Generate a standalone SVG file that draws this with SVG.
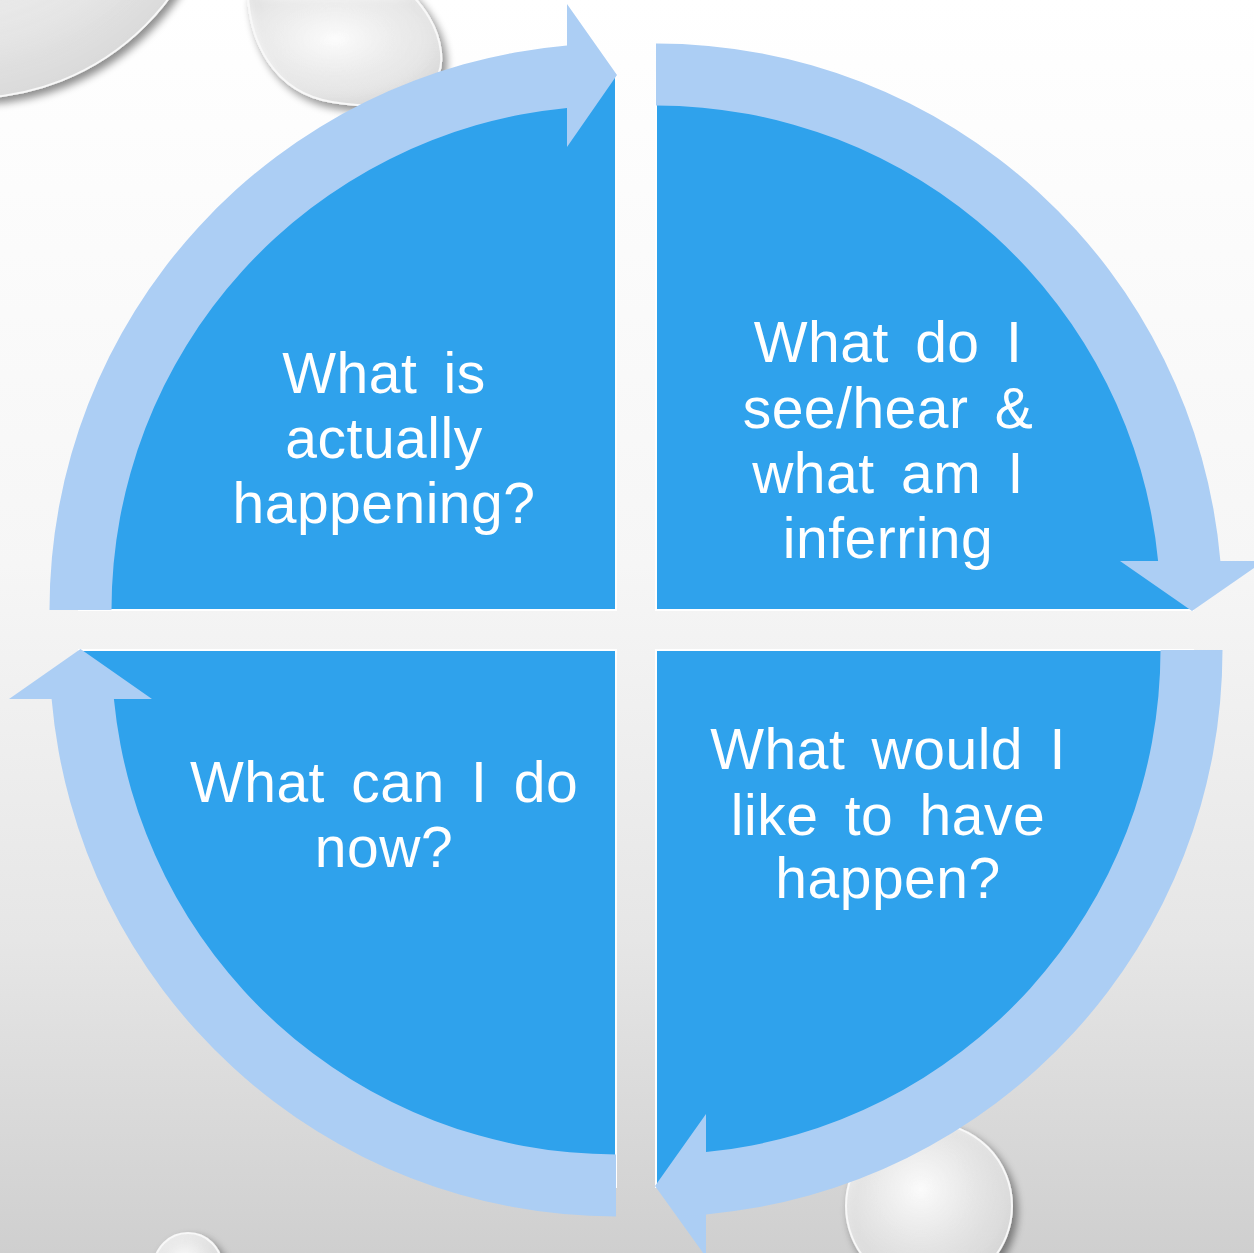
<svg xmlns="http://www.w3.org/2000/svg" width="1254" height="1253" viewBox="0 0 1254 1253">
  <defs>
    <linearGradient id="bg" x1="0" y1="0" x2="0" y2="1">
      <stop offset="0" stop-color="#FFFFFF"/>
      <stop offset="0.45" stop-color="#F6F6F6"/>
      <stop offset="0.75" stop-color="#E6E6E6"/>
      <stop offset="1" stop-color="#CFCFCF"/>
    </linearGradient>
    <radialGradient id="drop" cx="0.45" cy="0.4" r="0.65">
      <stop offset="0" stop-color="#FFFFFF" stop-opacity="0.95"/>
      <stop offset="0.7" stop-color="#F2F2F2" stop-opacity="0.7"/>
      <stop offset="1" stop-color="#DADADA" stop-opacity="0.85"/>
    </radialGradient>
    <filter id="shadow" x="-20%" y="-20%" width="150%" height="150%">
      <feGaussianBlur in="SourceAlpha" stdDeviation="4"/>
      <feOffset dx="4" dy="5" result="b"/>
      <feComponentTransfer><feFuncA type="linear" slope="0.55"/></feComponentTransfer>
      <feMerge><feMergeNode/><feMergeNode in="SourceGraphic"/></feMerge>
    </filter>
    <style>
      .seg { fill: #2FA2EC; stroke: #FFFFFF; stroke-width: 2; }
      .arrow { fill: #ACCEF4; stroke: none; }
      .label { fill: #FFFFFF; font-family: "Liberation Sans", Arial, sans-serif; font-size: 57px; text-anchor: middle; word-spacing: 10px; letter-spacing: 0.5px; }
      .droplet { fill: url(#drop); stroke: #F8F8F8; stroke-width: 2; filter: url(#shadow); }
    </style>
  </defs>

  <rect x="0" y="0" width="1254" height="1253" fill="url(#bg)"/>

  <g id="droplets">
    <circle class="droplet" cx="-30" cy="-150" r="248"/>
    <path class="droplet" d="M 248 -5 C 250 40 272 92 332 102 C 392 112 446 100 441 52 C 438 25 422 6 412 -5 Z"/>
    <circle class="droplet" cx="929" cy="1206" r="83"/>
    <circle class="droplet" cx="188" cy="1267" r="34"/>
  </g>

  <g id="node-actually-happening">
    <path class="seg" d="M 616 610 L 79 610 A 537 537 0 0 1 616 73 Z"/>
    <text class="label" x="384" y="393">What is</text>
    <text class="label" x="384" y="458">actually</text>
    <text class="label" x="384" y="523">happening?</text>
  </g>

  <g id="node-see-hear">
    <path class="seg" d="M 656 610 L 656 73 A 537 537 0 0 1 1193 610 Z"/>
    <text class="label" x="888" y="362">What do I</text>
    <text class="label" x="888" y="428">see/hear &amp;</text>
    <text class="label" x="888" y="493">what am I</text>
    <text class="label" x="888" y="558">inferring</text>
  </g>

  <g id="node-like-to-happen">
    <path class="seg" d="M 656 650 L 1193 650 A 537 537 0 0 1 656 1187 Z"/>
    <text class="label" x="888" y="769">What would I</text>
    <text class="label" x="888" y="835">like to have</text>
    <text class="label" x="888" y="898">happen?</text>
  </g>

  <g id="node-do-now">
    <path class="seg" d="M 616 650 L 616 1187 A 537 537 0 0 1 79 650 Z"/>
    <text class="label" x="384" y="802">What can I do</text>
    <text class="label" x="384" y="867">now?</text>
  </g>

  <g id="connectors">
    <path class="arrow" d="M 49.5 610 A 566.5 566.5 0 0 1 567 45.6 L 567 4 L 617 75 L 567 147 L 567 107.9 A 504.5 504.5 0 0 0 111.5 610 Z"/>
    <path class="arrow" d="M 656 43.5 A 566.5 566.5 0 0 1 1220.4 561 L 1264 561 L 1192 611 L 1120 561 L 1158.1 561 A 504.5 504.5 0 0 0 656 105.5 Z"/>
    <path class="arrow" d="M 1222.5 650 A 566.5 566.5 0 0 1 706 1214.4 L 706 1257 L 655 1186 L 706 1114 L 706 1152.1 A 504.5 504.5 0 0 0 1160.5 650 Z"/>
    <path class="arrow" d="M 616 1216.5 A 566.5 566.5 0 0 1 51.6 699 L 9 699 L 80.5 649 L 152 699 L 113.9 699 A 504.5 504.5 0 0 0 616 1154.5 Z"/>
  </g>
</svg>
